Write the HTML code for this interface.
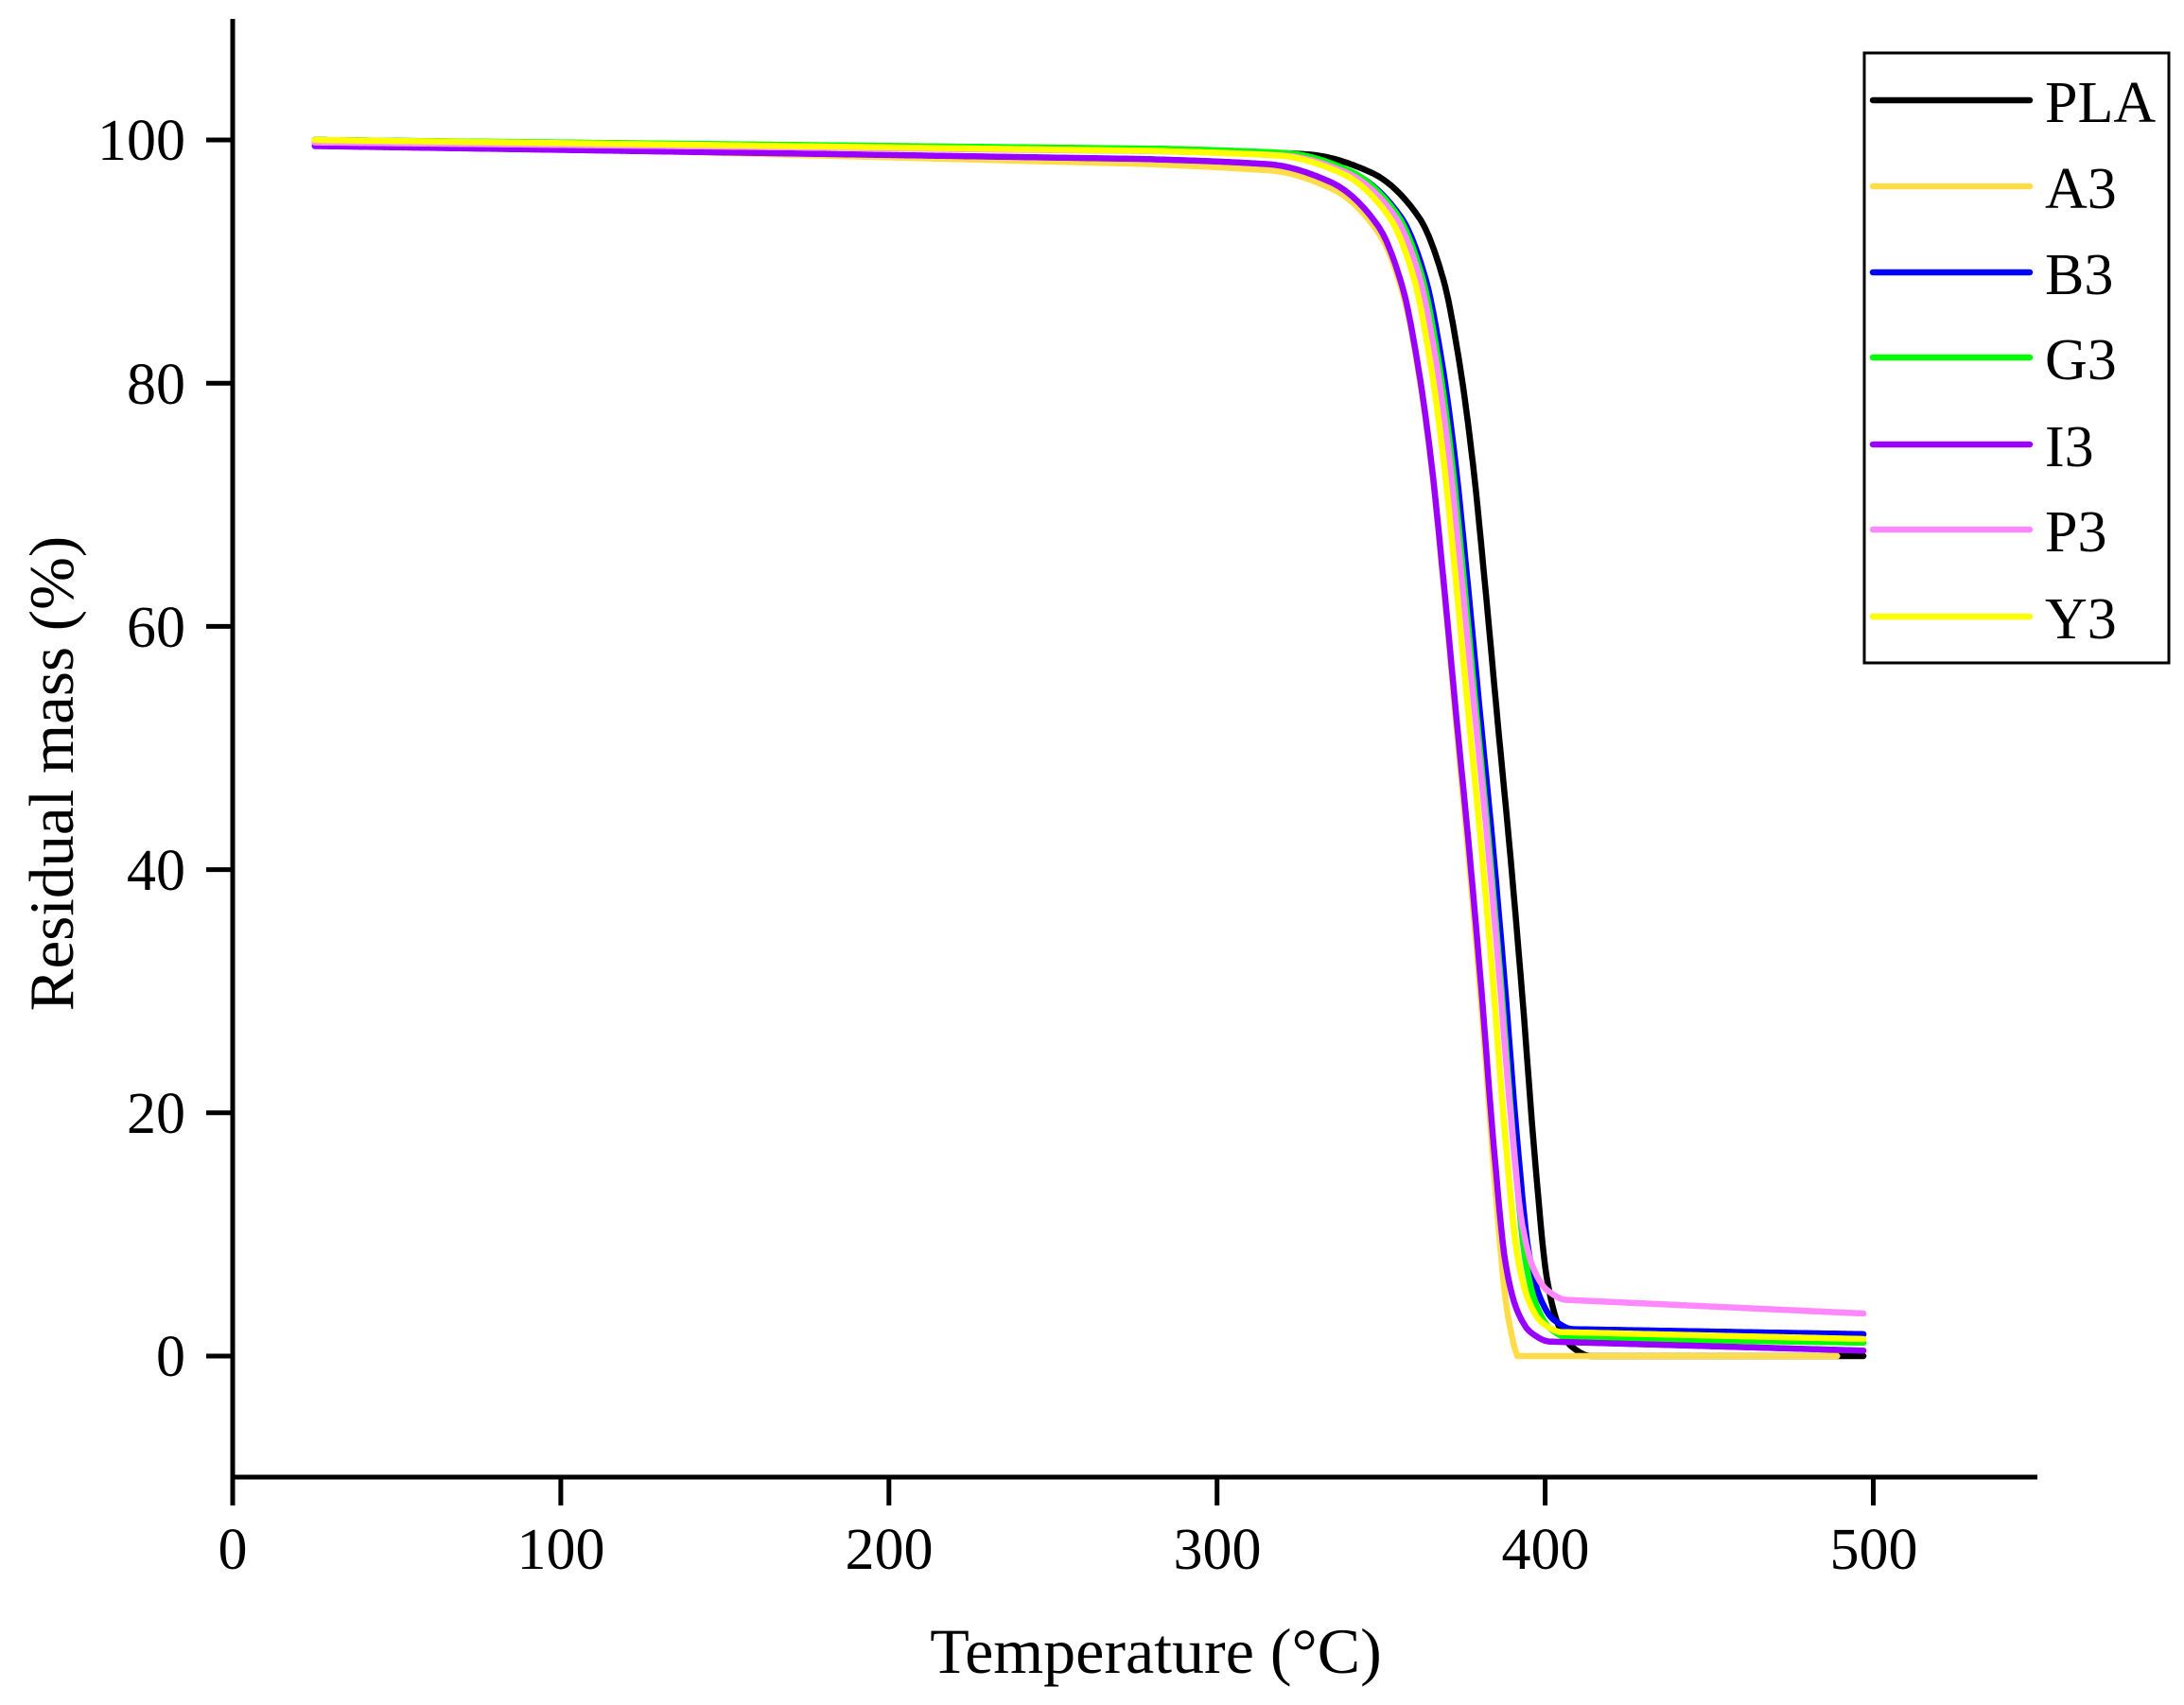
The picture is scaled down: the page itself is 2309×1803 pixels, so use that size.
<!DOCTYPE html>
<html><head><meta charset="utf-8">
<style>
html,body{margin:0;padding:0;background:#fff;}
svg{display:block;}
text{font-family:"Liberation Serif",serif;fill:#000;}
</style></head>
<body>
<svg id="s" width="2309" height="1803" viewBox="0 0 2309 1803" xmlns="http://www.w3.org/2000/svg">
<rect width="2309" height="1803" fill="#fff"/>
<g id="series" fill="none" stroke-width="6.5" stroke-linejoin="round" stroke-linecap="round"></g>
<line x1="246" y1="20" x2="246" y2="1564" stroke="#000" stroke-width="5"/>
<line x1="243.5" y1="1562" x2="2154" y2="1562" stroke="#000" stroke-width="5"/>
<g stroke="#000" stroke-width="5">
<line x1="218" y1="1434" x2="246" y2="1434"/>
<line x1="218" y1="1176.8" x2="246" y2="1176.8"/>
<line x1="218" y1="919.6" x2="246" y2="919.6"/>
<line x1="218" y1="662.4" x2="246" y2="662.4"/>
<line x1="218" y1="405.2" x2="246" y2="405.2"/>
<line x1="218" y1="148" x2="246" y2="148"/>
<line x1="246" y1="1562" x2="246" y2="1592"/>
<line x1="592.9" y1="1562" x2="592.9" y2="1592"/>
<line x1="939.8" y1="1562" x2="939.8" y2="1592"/>
<line x1="1286.7" y1="1562" x2="1286.7" y2="1592"/>
<line x1="1633.6" y1="1562" x2="1633.6" y2="1592"/>
<line x1="1980.5" y1="1562" x2="1980.5" y2="1592"/>
</g>
<g font-size="62" text-anchor="end">
<text x="196" y="1455">0</text>
<text x="196" y="1198">20</text>
<text x="196" y="941">40</text>
<text x="196" y="684">60</text>
<text x="196" y="427">80</text>
<text x="196" y="169">100</text>
</g>
<g font-size="62" text-anchor="middle">
<text x="246" y="1659">0</text>
<text x="593" y="1659">100</text>
<text x="940" y="1659">200</text>
<text x="1287" y="1659">300</text>
<text x="1634" y="1659">400</text>
<text x="1981" y="1659">500</text>
</g>
<text x="1222" y="1769" font-size="68" text-anchor="middle">Temperature (°C)</text>
<text transform="translate(77,818) rotate(-90)" font-size="67" text-anchor="middle">Residual mass (%)</text>
<rect x="1971" y="56" width="322" height="645" fill="#fff" stroke="#000" stroke-width="3"/>
<g stroke-width="6.5" stroke-linecap="round">
<line x1="1980" y1="106" x2="2146" y2="106" stroke="#000"/>
<line x1="1980" y1="197" x2="2146" y2="197" stroke="#ffdd4a"/>
<line x1="1980" y1="288" x2="2146" y2="288" stroke="#0000ff"/>
<line x1="1980" y1="378" x2="2146" y2="378" stroke="#00ff00"/>
<line x1="1980" y1="470" x2="2146" y2="470" stroke="#9900ff"/>
<line x1="1980" y1="560" x2="2146" y2="560" stroke="#ff88ff"/>
<line x1="1980" y1="652" x2="2146" y2="652" stroke="#ffff00"/>
</g>
<g font-size="62">
<text x="2162" y="129">PLA</text>
<text x="2162" y="220">A3</text>
<text x="2162" y="311">B3</text>
<text x="2162" y="401">G3</text>
<text x="2162" y="493">I3</text>
<text x="2162" y="583">P3</text>
<text x="2162" y="675">Y3</text>
</g>
</svg>
<script>
(function(){
var tbl=[[290,1],[310,0.999],[328,0.997],[347,0.982],[361.5,0.945],[369,0.893],[374,0.822],[378,0.74],[381.5,0.645],[385.4,0.53],[389.4,0.415],[393,0.30],[397,0.16],[400.5,0.065],[404,0.026],[408,0.008],[414,0],[420,0],[600,0]];
var n=tbl.length,xs=[],ys=[],m=[],dl=[];
for(var i=0;i<n;i++){xs.push(tbl[i][0]);ys.push(tbl[i][1]);}
for(i=0;i<n-1;i++)dl.push((ys[i+1]-ys[i])/(xs[i+1]-xs[i]));
m[0]=dl[0];m[n-1]=dl[n-2];
for(i=1;i<n-1;i++){ if(dl[i-1]*dl[i]<=0)m[i]=0; else { var w1=2*(xs[i+1]-xs[i])+(xs[i]-xs[i-1]),w2=(xs[i+1]-xs[i])+2*(xs[i]-xs[i-1]); m[i]=(w1+w2)/(w1/dl[i-1]+w2/dl[i]); } }
function frac(T){
 if(T<=xs[0])return 1; if(T>=xs[n-1])return 0;
 for(var i=0;i<n-1;i++){ if(T<=xs[i+1]){ var h=xs[i+1]-xs[i],t=(T-xs[i])/h,t2=t*t,t3=t2*t;
  return (2*t3-3*t2+1)*ys[i]+(t3-2*t2+t)*h*m[i]+(-2*t3+3*t2)*ys[i+1]+(t3-t2)*h*m[i+1]; } }
 return 0;}
function X(T){return 246+T*3.469;}
function Y(v){return 1434-v*12.86;}
var S=[
 {c:"#000000",p0:100,p1:99.1,d:0,r0:0,r1:0,e:497},
 {c:"#ffdd4a",p0:99.8,p1:97.8,d:12,r0:-3,r1:-3,e:489},
 {c:"#0000ff",p0:100,p1:99,d:5.5,r0:2.25,r1:1.8,e:497},
 {c:"#00ff00",p0:100,p1:99.2,d:6.5,r0:1.5,r1:1.1,e:497},
 {c:"#9900ff",p0:99.5,p1:98.3,d:12.5,r0:1.2,r1:0.45,e:497},
 {c:"#ff88ff",p0:99.8,p1:99,d:7.5,r0:4.7,r1:3.5,e:497},
 {c:"#ffff00",p0:100,p1:99,d:9,r0:2.0,r1:1.4,e:497}
];
var g=document.getElementById("series"),ns="http://www.w3.org/2000/svg";
S.forEach(function(s){
 var pts=[];
 for(var T=25;T<=s.e;T+=0.5){
  var p=s.p0+(s.p1-s.p0)*Math.min(1,(T-25)/(310-25));
  var r=s.r0+(s.r1-s.r0)*Math.max(0,(T-400)/97);
  var v=r+(p-r)*frac(T+s.d);
  if(v<0)v=0;
  pts.push(X(T).toFixed(1)+","+Y(v).toFixed(1));
 }
 var pl=document.createElementNS(ns,"polyline");
 pl.setAttribute("points",pts.join(" "));
 pl.setAttribute("stroke",s.c);
 g.appendChild(pl);
});
})();
</script>
</body></html>
